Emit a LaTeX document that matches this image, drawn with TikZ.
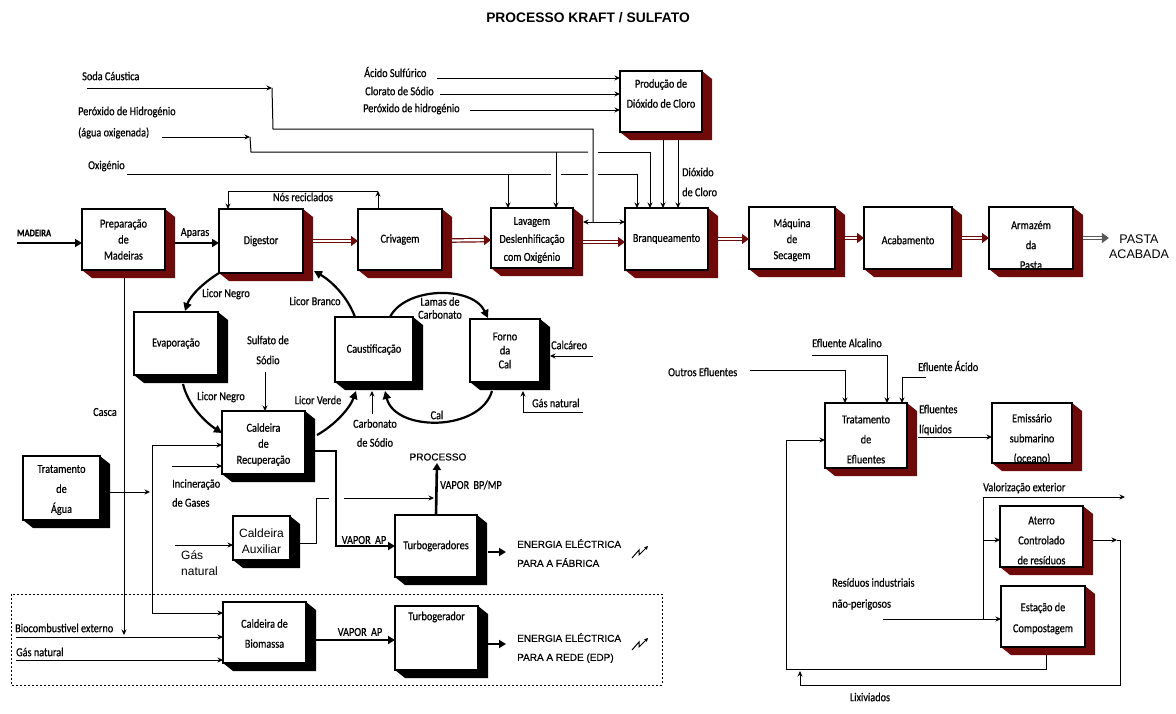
\documentclass[tikz,border=0pt]{standalone}
\usepackage{fontspec}
\setmainfont{Carlito}[FakeStretch=0.84, FakeBold=0.6]
\newfontfamily\arialf{Liberation Sans}
\newfontfamily\arialh{Liberation Sans}[FakeBold=0.5]
\usetikzlibrary{arrows.meta}
\definecolor{dred}{HTML}{6E0A0A}

% box with a 3-D shadow to the lower right: name, x1, y1, x2, y2, shadow colour, text, text offset, text options
\newcommand{\shbox}[9]{%
  \fill[#6] (#4,#3) -- (#4+10,#3+8) -- (#4+10,#5+8) -- (#2+10,#5+8) -- (#2,#5) -- cycle;
  \node[pbox, minimum width={(#4-#2)*1pt}, minimum height={(#5-#3)*1pt}] (#1) at ({(#2+#4)/2},{(#3+#5)/2}) {};
  \node[ptext,#9] (#1-t) at ([yshift={-(#8)*1pt}]#1.center) {#7};
}

\begin{document}
\begin{tikzpicture}[x=1pt,y=-1pt,
  pbox/.style={draw, fill=white, line width=1.1pt, inner sep=0pt, outer sep=0pt},
  ptext/.style={align=center, font=\fontsize{12.2}{16}\selectfont, inner sep=0pt},
  lbl/.style={font=\fontsize{12.2}{13}\selectfont, inner sep=0pt},
  sans/.style={font=\arialh\fontsize{10}{19}\selectfont, inner sep=0pt},
  ln/.style={line width=1pt},
  arr/.style={ln, -{Stealth[length=5.5pt,width=5pt]}},
  heavy/.style={line width=2.6pt},
  heavyarr/.style={heavy, -{Triangle[length=7pt,width=8pt]}},
  curvearr/.style={line width=2.2pt, -{Triangle[length=8pt,width=8pt]}},
  chain/.style={draw=dred, line width=1.2pt, double=white, double distance=2.2pt,
                -{Triangle[length=7pt,width=10pt,fill=dred]}},
  dotbox/.style={line width=0.9pt, dash pattern=on 2pt off 2pt}
]
\useasboundingbox (0,0) rectangle (1176,713);

% title
\node[font=\arialf\bfseries\fontsize{13.8}{15}\selectfont] (title) at (588,18) {PROCESSO KRAFT / SULFATO};

% ---------- main fibre line ----------
\shbox{prep}{82}{209}{165}{270}{dred}{Preparação\\de\\Madeiras}{0}{}
\shbox{dig}{219}{209}{303}{273}{dred}{Digestor}{0}{}
\shbox{criv}{358}{209}{442}{270}{dred}{Crivagem}{0}{}
\shbox{lav}{491}{208}{573}{268}{dred}{Lavagem\\Deslenhificação\\com Oxigénio}{2}{font=\fontsize{12.2}{18}\selectfont}
\shbox{branq}{625}{208}{708}{270}{dred}{Branqueamento}{0}{}
\shbox{prod}{620}{71}{702}{132}{dred}{Produção de\\Dióxido de Cloro}{-8}{font=\fontsize{12.2}{20}\selectfont}
\shbox{maq}{749}{207}{835}{269}{dred}{Máquina\\de\\Secagem}{2}{}
\shbox{acab}{864}{207}{952}{269}{dred}{Acabamento}{2}{}
\shbox{arm}{989}{207}{1073}{269}{dred}{Armazém\\da\\Pasta}{7}{font=\fontsize{12.2}{20}\selectfont}

% ---------- chemical recovery ----------
\shbox{evap}{134}{312}{218}{375}{black}{Evaporação}{0}{}
\shbox{cald}{222}{411}{305}{474}{black}{Caldeira\\de\\Recuperação}{2}{}
\shbox{caus}{335}{317}{413}{382}{black}{Caustificação}{0}{}
\shbox{forno}{470}{319}{540}{382}{black}{Forno\\da\\Cal}{0}{font=\fontsize{12.2}{14}\selectfont}

% ---------- energy ----------
\shbox{agua}{23}{456}{100}{520}{black}{Tratamento\\de\\Água}{2}{font=\fontsize{12.2}{20}\selectfont}
\shbox{aux}{233}{516}{290}{560}{black}{Caldeira\\Auxiliar}{3}{font=\arialf\fontsize{12}{16}\selectfont}
\shbox{turbo}{395}{515}{477}{577}{black}{Turbogeradores}{0}{}
\shbox{bio}{223}{602}{306}{663}{black}{Caldeira de\\Biomassa}{1}{font=\fontsize{12.2}{20}\selectfont}
\shbox{turbo2}{395}{606}{478}{670}{black}{Turbogerador}{-21}{}

% ---------- effluents and residues ----------
\shbox{efl}{825}{403}{907}{468}{dred}{Tratamento\\de\\Efluentes}{4}{font=\fontsize{12.2}{20}\selectfont}
\shbox{emis}{992}{403}{1072}{463}{dred}{Emissário\\submarino\\(oceano)}{6}{font=\fontsize{12.2}{20}\selectfont}
\shbox{ater}{1000}{506}{1083}{567}{dred}{Aterro\\Controlado\\de resíduos}{4}{font=\fontsize{12.2}{20}\selectfont}
\shbox{comp}{1001}{586}{1085}{647}{dred}{Estação de\\Compostagem}{2}{font=\fontsize{12.2}{21}\selectfont}

% ---------- labels ----------
\node[lbl, anchor=west] (l-soda) at (82,76) {Soda Cáustica};
\node[lbl, anchor=west] (l-perox) at (78,112) {Peróxido de Hidrogénio};
\node[lbl, anchor=west] (l-oxag) at (78,133) {(água oxigenada)};
\node[lbl, anchor=west] (l-oxi) at (88,166) {Oxigénio};
\node[lbl, anchor=west] (l-acido) at (364,72) {Ácido Sulfúrico};
\node[lbl, anchor=west] (l-clorato) at (365,91) {Clorato de Sódio};
\node[lbl, anchor=west] (l-perox2) at (363,109) {Peróxido de hidrogénio};
\node[lbl, anchor=west, align=left, font=\fontsize{12.2}{20}\selectfont] (l-dioxido) at (682,182) {Dióxido\\de Cloro};
\node[lbl] (l-nos) at (303,197) {Nós reciclados};
\node[lbl, anchor=west, font=\bfseries\fontsize{10}{11}\selectfont] (l-mad) at (17,233) {MADEIRA};
\node[lbl] (l-aparas) at (195,233) {Aparas};
\node[lbl] (l-ln1) at (226,294) {Licor Negro};
\node[lbl] (l-ln2) at (221,397) {Licor Negro};
\node[lbl] (l-lb) at (315,301) {Licor Branco};
\node[lbl] (l-lv) at (318,400) {Licor Verde};
\node[lbl, align=center, font=\fontsize{12.2}{20}\selectfont] (l-sulf) at (268,350) {Sulfato de\\Sódio};
\node[lbl, align=center, font=\fontsize{12.2}{19}\selectfont] (l-carb) at (375,433) {Carbonato\\de Sódio};
\node[lbl, align=center, font=\fontsize{12.2}{13}\selectfont] (l-lamas) at (440,308) {Lamas de\\Carbonato};
\node[lbl] (l-cal) at (437,415) {Cal};
\node[lbl, anchor=west] (l-calc) at (551,345) {Calcáreo};
\node[lbl, anchor=west] (l-gnf) at (532,403) {Gás natural};
\node[lbl] (l-casca) at (105,412) {Casca};
\node[lbl, anchor=west, align=left, font=\fontsize{12.2}{19}\selectfont] (l-incin) at (172,493) {Incineração\\de Gases};
\node[anchor=west, align=left, inner sep=0pt, font=\arialf\fontsize{12}{16}\selectfont] (l-gna) at (181,563) {Gás\\natural};
\node[lbl] (l-vap1) at (364,540) {VAPOR\, AP};
\node[lbl] (l-vap2) at (360,632) {VAPOR\, AP};
\node[lbl, anchor=west] (l-vbp) at (440,485) {VAPOR\, BP/MP};
\node[sans] (l-proc) at (438,457) {PROCESSO};
\node[sans, anchor=west, align=left] (l-ef1) at (517,553) {ENERGIA ELÉCTRICA\\PARA A FÁBRICA};
\node[sans, anchor=west, align=left] (l-ef2) at (517,648) {ENERGIA ELÉCTRICA\\PARA A REDE (EDP)};
\node[lbl, anchor=west] (l-bioc) at (15,628) {Biocombustivel externo};
\node[lbl, anchor=west] (l-gnb) at (16,652) {Gás natural};
\node[align=center, inner sep=0pt, font=\arialf\fontsize{12.5}{15}\selectfont] (l-pasta) at (1139,247) {PASTA\\ACABADA};
\node[lbl, anchor=west] (l-outros) at (668,372) {Outros Efluentes};
\node[lbl, anchor=west] (l-alc) at (812,343) {Efluente Alcalino};
\node[lbl, anchor=west] (l-acid) at (918,366) {Efluente Ácido};
\node[lbl, anchor=west, align=left, font=\fontsize{12.2}{20}\selectfont] (l-liq) at (919,420) {Efluentes\\líquidos};
\node[lbl, anchor=west] (l-valor) at (983,488) {Valorização exterior};
\node[lbl, anchor=west, align=left, font=\fontsize{12.2}{21}\selectfont] (l-resid) at (832,594) {Resíduos industriais\\não-perigosos};
\node[lbl] (l-lix) at (870,697) {Lixiviados};

% ---------- fibre line connectors ----------
\coordinate (madin) at (17,243);
\draw[heavyarr] (madin) -- (madin -| prep.west);
\draw[heavyarr] (175,243) -- (dig.west |- 0,243);
\draw[chain] ([xshift=10pt]dig.east) -- (criv.west |- dig.east);
\draw[chain] ([xshift=10pt,yshift=-1pt]criv.east) -- (lav.west |- 0,240);
\draw[chain] ([xshift=10pt,yshift=-4pt]lav.east) -- (branq.west |- 0,242);
\draw[chain] ([xshift=10pt]branq.east) -- (maq.west |- branq.east);
\draw[chain] ([xshift=10pt]maq.east) -- (acab.west |- maq.east);
\draw[chain] ([xshift=10pt]acab.east) -- (arm.west |- acab.east);
\draw[chain, draw=black!65, -{Triangle[length=7pt,width=10pt,fill=black!65]}] ([xshift=10pt]arm.east) -- (l-pasta.west |- arm.east);

% recycled knots
\coordinate (nosA) at (378,191);
\coordinate (nosB) at (228,191);
\draw[arr] ([xshift=20pt]criv.north west) -- (nosA);
\draw[arr] (nosA) -- (nosB) -- (nosB |- dig.north);

% soda, peroxide and oxygen feeds
\coordinate (sodaA) at (272,88);
\coordinate (sodaB) at (593,129);
\coordinate (sodaC) at (593,222);
\draw[arr] (l-soda.south west |- sodaA) ++(5,0) -- (sodaA);
\draw[ln] (sodaA) -- (273,129) -- (sodaB) -- (sodaC);
\draw[arr] (sodaC) -- (583,222);
\draw[arr] (sodaC) -- (branq.west |- sodaC);

\coordinate (perA) at (250,137);
\draw[arr] (162,137) -- (perA);
\draw[ln] (perA) -- (251,152) -- (588,152);
\draw[arr] (598,152) -- (650,152) -- (650,208);
\draw[arr] (556,152) -- (556,208);

\draw[ln] (127,174) -- (551,174);
\draw[ln] (561,174) -- (588,174);
\draw[arr] (598,174) -- (637,174) -- (637,208);
\draw[arr] (508,174) -- (508,208);

% chlorine dioxide plant
\draw[arr] (437,78) -- (prod.west |- 0,78);
\draw[arr] (440,94) -- (prod.west |- 0,94);
\draw[arr] (470,110) -- (prod.west |- 0,110);
\draw[arr] (663,140) -- (663,208);
\draw[arr] (678,140) -- (678,208);

% ---------- recovery cycle ----------
\draw[curvearr] (dig.south west) .. controls (203,283) and (190,296) .. (185,311);
\draw[curvearr] (183,384) .. controls (188,405) and (205,422) .. (222,433);
\draw[curvearr] (317,435) .. controls (335,425) and (350,408) .. (356,391);
\draw[curvearr] (355,317) .. controls (348,298) and (333,282) .. (314,271);
\draw[curvearr] (390,317) .. controls (405,287) and (472,285) .. (488,318);
\draw[curvearr] (492,391) .. controls (480,432) and (395,432) .. (385,391);
\draw[arr] (265,372) -- (265,411);
\draw[arr] (372,414) -- (372,391);
\draw[arr] (593,356) -- (550,356);
\draw[arr] (583,412) -- (523,412) -- (523,391);

% ---------- water, bark and fuels ----------
\coordinate (wA) at (152,445);
\coordinate (wB) at (152,613);
\draw[arr] (110,492) -- (150,492);
\draw[ln] (wA) -- (wB);
\draw[arr] (wA) -- (cald.west |- wA);
\draw[arr] (wB) -- (bio.west |- wB);
\draw[arr] (124,278) -- (124,635);
\draw[arr] (172,466) -- (cald.west |- 0,466);
\draw[arr] (175,545) -- (aux.west |- 0,545);
\draw[ln] (300,543) -- (316,543) -- (316,498) -- (329,498);
\draw[arr] (344,498) -- (434,498);

% steam
\draw[heavyarr] (315,451) -- (336,451) -- (336,546) -- (turbo.west |- 0,546);
\draw[heavyarr] (turbo.north) -- (437,463);
\draw[heavyarr] (488,552) -- (506,552);
\draw[heavyarr] (316,640) -- (turbo2.west |- 0,640);
\draw[heavyarr] (488,644) -- (506,644);

% electricity symbols
\draw[ln, -{Stealth[length=4pt,width=4pt]}] (632,558) -- (639,550) -- (639,555) -- (648,546);
\draw[ln, -{Stealth[length=4pt,width=4pt]}] (632,650) -- (639,642) -- (639,647) -- (648,638);

% external fuels
\draw[arr] (16,637) -- (bio.west |- 0,637);
\draw[arr] (16,660) -- (bio.west |- 0,660);

% separately fed boiler frame
\draw[dotbox] (11,594) rectangle (662,685);

% ---------- effluents ----------
\draw[arr] (750,370) -| (845,403);
\draw[arr] (812,355) -| (887,403);
\draw[arr] (926,377) -| (902,403);
\draw[arr] (918,437) -- (emis.west |- 0,437);

% residues
\coordinate (rA) at (983,619);
\coordinate (rB) at (983,497);
\draw[arr] (883,619) -- (comp.west |- rA);
\draw[arr] (rA) -- (rB) -- (1125,497);
\draw[arr] (983,540) -- (ater.west |- 0,540);

% leachate loops
\draw[arr] (1046,655) -- (1046,669) -- (786,669) -- (786,440) -- (efl.west |- 0,440);
\draw[arr] (1093,540) -- (1117,540);
\draw[arr] (1117,540) -- (1120,540) -- (1120,685) -- (800,685) -- (800,671);

\end{tikzpicture}
\end{document}
